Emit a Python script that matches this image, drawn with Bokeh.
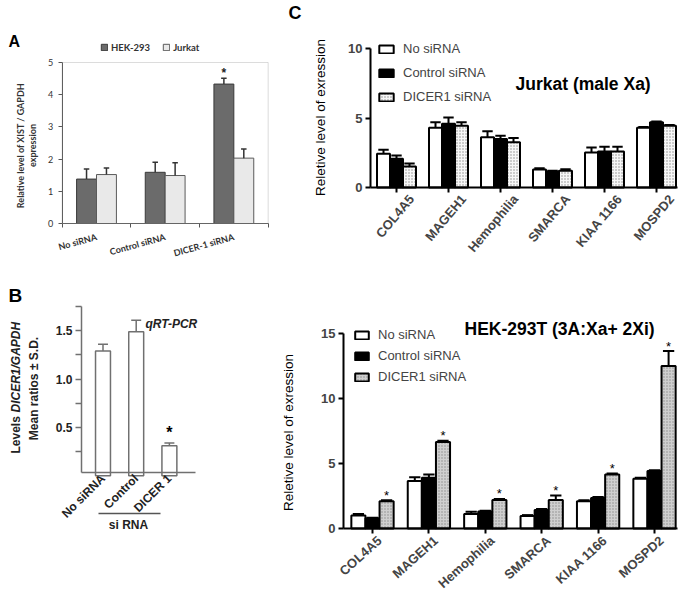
import numpy as np
from math import pi
from bokeh.plotting import figure
from bokeh.layouts import row, column
from bokeh.models import (Range1d, FixedTicker, Label, Legend, LegendItem, Arrow,
                          NumeralTickFormatter, BoxAnnotation, LinearAxis)
from bokeh.core.properties import value
from bokeh.embed import file_html
from bokeh.resources import INLINE

ARIAL = "Liberation Sans"
CAL = "Lato"

# ---------------- data ----------------
# Panel A: XIST / GAPDH
a_categories = ["No siRNA", "Control siRNA", "DICER-1 siRNA"]
a_series = ["HEK-293", "Jurkat"]
a_hek = [1.38, 1.59, 4.33]
a_hek_err = [0.31, 0.31, 0.18]
a_jurkat = [1.52, 1.49, 2.03]
a_jurkat_err = [0.20, 0.40, 0.28]
a_hek_star = [False, False, True]
a_yticks = [0, 1, 2, 3, 4, 5]

# Panel B: DICER1 / GAPDH qRT-PCR
b_categories = ["No siRNA", "Control", "DICER 1"]
b_values = [1.29, 1.49, 0.31]
b_err = [0.07, 0.12, 0.03]
b_star = [False, False, True]
b_yticks = [0.5, 1.0, 1.5]
b_yminor = [0.25, 0.75, 1.25, 1.75]

# Panel C
c_genes = ["COL4A5", "MAGEH1", "Hemophilia", "SMARCA", "KIAA 1166", "MOSPD2"]
series_names = ["No siRNA", "Control siRNA", "DICER1 siRNA"]

jurkat_no = [2.43, 4.30, 3.62, 1.30, 2.52, 4.30]
jurkat_no_err = [0.29, 0.40, 0.44, 0.08, 0.36, 0.06]
jurkat_ctrl = [2.07, 4.60, 3.50, 1.15, 2.60, 4.70]
jurkat_ctrl_err = [0.23, 0.45, 0.23, 0.05, 0.33, 0.06]
jurkat_dicer = [1.52, 4.45, 3.26, 1.20, 2.60, 4.45]
jurkat_dicer_err = [0.21, 0.25, 0.31, 0.12, 0.33, 0.06]
jurkat_yticks = [0, 5, 10]

hek_no = [1.00, 3.65, 1.12, 0.97, 2.10, 3.82]
hek_no_err = [0.12, 0.30, 0.17, 0.06, 0.08, 0.08]
hek_ctrl = [0.78, 3.90, 1.30, 1.43, 2.35, 4.42]
hek_ctrl_err = [0.04, 0.25, 0.06, 0.07, 0.07, 0.06]
hek_dicer = [2.10, 6.65, 2.20, 2.20, 4.15, 12.50]
hek_dicer_err = [0.08, 0.10, 0.07, 0.33, 0.08, 1.15]
hek_star = [True, True, True, True, True, True]
hek_yticks = [0, 5, 10, 15]


class Map:
    """Maps page pixels to data units for one figure whose frame fills the figure."""

    def __init__(self, fx, fy, fw, fh, X0, sx, Y0, sy, x0=0.0, y0=0.0):
        self.fx, self.fy, self.fw, self.fh = fx, fy, fw, fh
        self.X0, self.sx, self.Y0, self.sy, self.x0, self.y0 = X0, sx, Y0, sy, x0, y0

    def dx(self, px):
        return self.x0 + (px - self.X0) / self.sx

    def dy(self, py):
        return self.y0 + (self.Y0 - py) / self.sy

    def xr(self, shift_px=0.0):
        return (self.dx(self.fx - shift_px), self.dx(self.fx + self.fw - shift_px))

    def yr(self):
        return (self.dy(self.fy + self.fh), self.dy(self.fy))

    def loc(self, px, py):
        return (px - self.fx, self.fy + self.fh - py)


def make_fig(M):
    p = figure(width=M.fw, height=M.fh, x_range=Range1d(*M.xr()), y_range=Range1d(*M.yr()),
               output_backend="svg", toolbar_location=None, title=None,
               min_border_left=0, min_border_right=0, min_border_top=0, min_border_bottom=0)
    p.xgrid.visible = False
    p.ygrid.visible = False
    p.outline_line_color = None
    p.background_fill_color = "white"
    p.border_fill_color = "white"
    return p


def label(p, M, ix, iy, text, size, font=ARIAL, style="normal", align="left",
          baseline="middle", angle=0.0, color="black"):
    p.add_layout(Label(x=M.dx(ix), y=M.dy(iy), text=text, text_font=font,
                       text_font_size=f"{size}px", text_font_style=style,
                       text_align=align, text_baseline=baseline, angle=angle,
                       text_color=color))


def errbars(p, xs, tops, errs, cap, color, lw):
    xs = np.asarray(xs, dtype=float)
    tops = np.asarray(tops, dtype=float)
    ups = tops + np.asarray(errs, dtype=float)
    p.segment(x0=xs, y0=tops, x1=xs, y1=ups, line_color=color, line_width=lw)
    p.segment(x0=xs - cap / 2, y0=ups, x1=xs + cap / 2, y1=ups, line_color=color, line_width=lw)


# ---------------- Panel A ----------------
MA = Map(0, 0, 278, 270, X0=96, sx=68.67, Y0=223, sy=32.2)
pA = make_fig(MA)
xa = np.arange(len(a_categories))
bwa = 0.29
rA1 = pA.vbar(x=xa - bwa / 2, top=a_hek, width=bwa, fill_color="#6b6b6b",
              line_color="#3a3a3a", line_width=1)
rA2 = pA.vbar(x=xa + bwa / 2, top=a_jurkat, width=bwa, fill_color="#e9e9e9",
              line_color="#5a5a5a", line_width=1)
errbars(pA, xa - bwa / 2, a_hek, a_hek_err, 0.08, "#333333", 1.5)
errbars(pA, xa + bwa / 2, a_jurkat, a_jurkat_err, 0.08, "#333333", 1.5)
sx = [x - bwa / 2 for x, s in zip(xa, a_hek_star) if s]
sy = [v + e for v, e, s in zip(a_hek, a_hek_err, a_hek_star) if s]
pA.text(x=sx, y=sy, text=["*"] * len(sx), text_font=value(ARIAL), text_font_size="12px",
        text_font_style="bold", text_align="center", text_baseline="middle", y_offset=-5,
        text_color="#222222")
a_xlo, a_xhi = -0.5, len(a_categories) - 0.5
pA.add_layout(BoxAnnotation(left=a_xlo, right=a_xhi, bottom=a_yticks[0], top=a_yticks[-1],
                            fill_color=None, line_color="#8a8a8a", line_width=1))

pA.yaxis.fixed_location = a_xlo
pA.yaxis.bounds = (a_yticks[0], a_yticks[-1])
pA.yaxis.ticker = FixedTicker(ticks=a_yticks)
pA.yaxis.major_tick_out = 4
pA.yaxis.major_tick_in = 0
pA.yaxis.minor_tick_out = 0
pA.yaxis.axis_line_color = "#555555"
pA.yaxis.major_tick_line_color = "#555555"
pA.yaxis.major_label_text_font = CAL
pA.yaxis.major_label_text_font_size = "9px"
pA.yaxis.major_label_text_color = "#333333"
pA.yaxis.major_label_standoff = 5

pA.xaxis.fixed_location = a_yticks[0]
pA.xaxis.bounds = (a_xlo, a_xhi)
pA.xaxis.ticker = FixedTicker(ticks=list(xa), minor_ticks=list(np.arange(len(xa) + 1) - 0.5))
pA.xaxis.major_label_overrides = {int(i): c for i, c in zip(xa, a_categories)}
pA.xaxis.major_tick_out = 0
pA.xaxis.major_tick_in = 0
pA.xaxis.minor_tick_out = 4
pA.xaxis.minor_tick_in = 0
pA.xaxis.axis_line_color = "#555555"
pA.xaxis.minor_tick_line_color = "#555555"
pA.xaxis.major_label_orientation = 0.27
pA.xaxis.major_label_text_font = CAL
pA.xaxis.major_label_text_font_size = "9px"
pA.xaxis.major_label_text_font_style = "bold"
pA.xaxis.major_label_text_color = "#333333"
pA.xaxis.major_label_standoff = 9

legA = Legend(items=[LegendItem(label=a_series[0], renderers=[rA1]),
                     LegendItem(label=a_series[1], renderers=[rA2])],
              orientation="horizontal", location=MA.loc(100, 53),
              glyph_width=8, glyph_height=8, label_height=12, label_standoff=3,
              spacing=12, padding=0, margin=0, border_line_color=None,
              background_fill_alpha=0, label_text_font=CAL,
              label_text_font_size="9.5px", label_text_font_style="bold",
              label_text_color="#333333")
pA.add_layout(legA)

label(pA, MA, 8, 41, "A", 16, style="bold")
label(pA, MA, 20, 145, "Relative level of XIST / GAPDH", 9, font=CAL, style="bold",
      align="center", angle=pi / 2, color="#333333")
label(pA, MA, 32, 145, "expression", 9, font=CAL, style="bold", align="center",
      angle=pi / 2, color="#333333")

# ---------------- Panel B ----------------
MB = Map(0, 270, 278, 327, X0=102.5, sx=33.2, Y0=427, sy=96.7, y0=0.5)
pB = make_fig(MB)
xb = np.arange(len(b_categories))
pB.vbar(x=xb, top=b_values, width=0.45, fill_color="white", line_color="#707070",
        line_width=1.5)
errbars(pB, xb, b_values, b_err, 0.3, "#707070", 1.5)
bsx = [x for x, s in zip(xb, b_star) if s]
bsy = [v + e for v, e, s in zip(b_values, b_err, b_star) if s]
pB.text(x=bsx, y=bsy, text=["*"] * len(bsx), text_font=value(ARIAL), text_font_size="16px",
        text_font_style="bold", text_align="center", text_baseline="middle", y_offset=-10)

b_ybottom = MB.dy(472)
pB.yaxis.fixed_location = MB.dx(81)
pB.yaxis.bounds = (b_ybottom, b_yminor[-1])
pB.yaxis.ticker = FixedTicker(ticks=b_yticks, minor_ticks=b_yminor)
pB.yaxis.formatter = NumeralTickFormatter(format="0.0")
pB.yaxis.major_tick_out = 6
pB.yaxis.major_tick_in = 0
pB.yaxis.minor_tick_out = 6
pB.yaxis.minor_tick_in = 0
pB.yaxis.axis_line_color = "#707070"
pB.yaxis.axis_line_width = 1.5
pB.yaxis.major_tick_line_color = "#707070"
pB.yaxis.minor_tick_line_color = "#707070"
pB.yaxis.major_tick_line_width = 1.5
pB.yaxis.minor_tick_line_width = 1.5
pB.yaxis.major_label_text_font = ARIAL
pB.yaxis.major_label_text_font_size = "12px"
pB.yaxis.major_label_text_font_style = "bold"
pB.yaxis.major_label_text_color = "#222222"
pB.yaxis.major_label_standoff = 3

pB.xaxis.fixed_location = b_ybottom
pB.xaxis.bounds = (MB.dx(81), MB.dx(195))
pB.xaxis.ticker = FixedTicker(ticks=list(xb))
pB.xaxis.major_label_overrides = {int(i): c for i, c in zip(xb, b_categories)}
pB.xaxis.major_tick_out = 0
pB.xaxis.major_tick_in = 0
pB.xaxis.minor_tick_out = 0
pB.xaxis.axis_line_color = "#707070"
pB.xaxis.axis_line_width = 1.5
pB.xaxis.major_label_orientation = pi / 4
pB.xaxis.major_label_text_font = ARIAL
pB.xaxis.major_label_text_font_size = "12px"
pB.xaxis.major_label_text_font_style = "bold"
pB.xaxis.major_label_text_color = "#222222"
pB.xaxis.major_label_standoff = 4

label(pB, MB, 8, 295, "B", 19, style="bold")
label(pB, MB, 15, 453, "Levels ", 12, style="bold", align="left", angle=pi / 2, color="#222222")
label(pB, MB, 15, 412, "DICER1/GAPDH", 12, style="bold italic", align="left", angle=pi / 2,
      color="#222222")
label(pB, MB, 33, 388, "Mean ratios \u00b1 S.D.", 12, style="bold", align="center",
      angle=pi / 2, color="#222222")
label(pB, MB, 145, 323, "qRT-PCR", 12, style="bold italic", color="#222222")
label(pB, MB, 128, 524, "si RNA", 12, style="bold", align="center", color="#222222")
pB.add_layout(Arrow(x_start=MB.dx(98), y_start=MB.dy(513), x_end=MB.dx(160), y_end=MB.dy(513),
                    end=None, line_color="#555555", line_width=1.5))


# ---------------- Panel C helpers ----------------
def style_c(p, M, yticks, axis_px, right_px, label_shift_px, orient, standoff):
    p.yaxis.fixed_location = M.dx(axis_px)
    p.yaxis.bounds = (yticks[0], yticks[-1])
    p.yaxis.ticker = FixedTicker(ticks=yticks)
    p.yaxis.major_tick_out = 5
    p.yaxis.major_tick_in = 0
    p.yaxis.minor_tick_out = 0
    p.yaxis.axis_line_width = 2
    p.yaxis.major_tick_line_width = 2
    p.yaxis.axis_line_color = "black"
    p.yaxis.major_label_text_font = ARIAL
    p.yaxis.major_label_text_font_size = "13px"
    p.yaxis.major_label_text_font_style = "bold"
    p.yaxis.major_label_standoff = 3
    # category tick marks on the main x axis
    p.xaxis.fixed_location = yticks[0]
    p.xaxis.bounds = (M.dx(axis_px), M.dx(right_px))
    p.xaxis.ticker = FixedTicker(ticks=[], minor_ticks=list(range(len(c_genes))))
    p.xaxis.major_tick_out = 0
    p.xaxis.major_tick_in = 0
    p.xaxis.minor_tick_out = 5
    p.xaxis.minor_tick_in = 0
    p.xaxis.axis_line_width = 2
    p.xaxis.minor_tick_line_width = 2
    p.xaxis.minor_tick_line_color = "black"
    p.xaxis.axis_line_color = "black"
    # rotated gene labels on a companion axis (range nudged a few px to the right)
    p.extra_x_ranges = {"genes": Range1d(*M.xr(label_shift_px))}
    lab_axis = LinearAxis(x_range_name="genes", fixed_location=yticks[0],
                          ticker=FixedTicker(ticks=list(range(len(c_genes)))),
                          major_label_overrides={i: g for i, g in enumerate(c_genes)},
                          axis_line_color=None, major_tick_line_color=None,
                          minor_tick_line_color=None, major_tick_out=0, major_tick_in=0,
                          minor_tick_out=0, minor_tick_in=0,
                          major_label_orientation=orient, major_label_standoff=standoff,
                          major_label_text_font=ARIAL, major_label_text_font_size="13px",
                          major_label_text_font_style="bold")
    p.add_layout(lab_axis, "below")


def bars_c(p, no, no_e, ctrl, ctrl_e, dic, dic_e, dicer_fill):
    xc = np.arange(len(c_genes))
    w = 0.25
    r1 = p.vbar(x=xc - w, top=no, width=w, fill_color="white", line_color="black", line_width=2)
    r2 = p.vbar(x=xc, top=ctrl, width=w, fill_color="black", line_color="black", line_width=2)
    r3 = p.vbar(x=xc + w, top=dic, width=w, fill_color=dicer_fill, line_color="black",
                line_width=2, hatch_pattern="dot", hatch_color="#8c8c8c", hatch_scale=3,
                hatch_weight=1)
    errbars(p, xc - w, no, no_e, 0.2, "black", 2)
    errbars(p, xc, ctrl, ctrl_e, 0.2, "black", 2)
    errbars(p, xc + w, dic, dic_e, 0.2, "black", 2)
    return r1, r2, r3


def legend_c(p, rs, loc, spacing, gw, gh):
    leg = Legend(items=[LegendItem(label=n, renderers=[r]) for n, r in zip(series_names, rs)],
                 location=loc, glyph_width=gw, glyph_height=gh, label_height=15,
                 label_standoff=8, spacing=spacing, padding=0, margin=0,
                 border_line_color=None, background_fill_alpha=0,
                 label_text_font=ARIAL, label_text_font_size="13px")
    p.add_layout(leg)


# ---------------- Panel C top (Jurkat) ----------------
MC1 = Map(278, 0, 406, 300, X0=396, sx=52.0, Y0=187, sy=13.88)
pC1 = make_fig(MC1)
style_c(pC1, MC1, jurkat_yticks, 370, 677, 15, 50 * pi / 180, 9)
rs1 = bars_c(pC1, jurkat_no, jurkat_no_err, jurkat_ctrl, jurkat_ctrl_err,
             jurkat_dicer, jurkat_dicer_err, "#f7f7f7")
legend_c(pC1, rs1, MC1.loc(377, 104), 9, 18, 10)
label(pC1, MC1, 288, 12, "C", 18, style="bold")
label(pC1, MC1, 515, 83, "Jurkat (male Xa)", 17.5, style="bold")
label(pC1, MC1, 320, 117, "Reletive level of exression", 13.5, align="center", angle=pi / 2)

# ---------------- Panel C bottom (HEK-293T) ----------------
MC2 = Map(278, 300, 406, 297, X0=372, sx=56.4, Y0=528, sy=13.0)
pC2 = make_fig(MC2)
style_c(pC2, MC2, hek_yticks, 343, 677, 7, 42 * pi / 180, 10)
rs2 = bars_c(pC2, hek_no, hek_no_err, hek_ctrl, hek_ctrl_err,
             hek_dicer, hek_dicer_err, "#cfcfcf")
legend_c(pC2, rs2, MC2.loc(353, 384), 6, 17, 10)
xc2 = np.arange(len(c_genes))
s2x = [x + 0.25 for x, s in zip(xc2, hek_star) if s]
s2y = [v + e for v, e, s in zip(hek_dicer, hek_dicer_err, hek_star) if s]
pC2.text(x=s2x, y=s2y, text=["*"] * len(s2x), text_font=value(ARIAL), text_font_size="13px",
         text_align="center", text_baseline="middle", y_offset=-5)
label(pC2, MC2, 464, 328, "HEK-293T (3A:Xa+ 2Xi)", 17.5, style="bold")
label(pC2, MC2, 288, 432, "Reletive level of exression", 13.5, align="center", angle=pi / 2)

layout = row(column(pA, pB), column(pC1, pC2))
open("out.html", "w").write(file_html(layout, INLINE))
